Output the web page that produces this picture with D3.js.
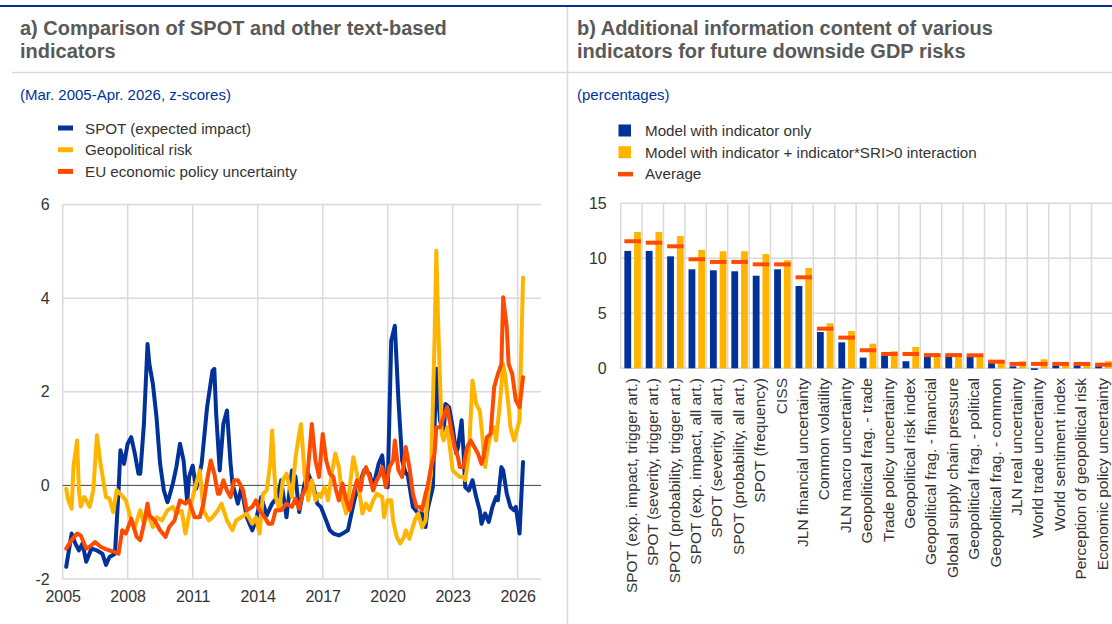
<!DOCTYPE html>
<html>
<head>
<meta charset="utf-8">
<script src="https://cdn.jsdelivr.net/npm/d3@7"></script>
<style>
  body { margin: 0; background: #fff; }
  svg text { font-family: "Liberation Sans", Arial, sans-serif; }
</style>
</head>
<body>
<svg id="chart" width="1112" height="624"></svg>
<script>
// ---------- Panel a: monthly z-scores ----------
const spotSeries = [
  ["2005-03",-1.74],["2005-06",-1.03],["2005-08",-1.24],["2005-10",-1.39],["2005-12",-1.24],
  ["2006-02",-1.63],["2006-05",-1.35],["2006-08",-1.39],["2006-11",-1.46],["2007-01",-1.70],
  ["2007-03",-1.53],["2007-06",-1.46],["2007-08",-0.10],["2007-09",0.75],["2007-11",0.46],
  ["2008-01",0.89],["2008-03",1.03],["2008-05",0.68],["2008-07",0.25],["2008-08",0.25],
  ["2008-10",1.31],["2008-12",3.02],["2009-01",2.59],["2009-03",2.17],["2009-05",1.46],
  ["2009-07",0.46],["2009-09",-0.10],["2009-11",-0.36],["2009-12",-0.25],["2010-02",0.04],
  ["2010-04",0.39],["2010-06",0.89],["2010-08",0.53],["2010-10",-0.35],["2010-11",0.18],
  ["2011-01",0.42],["2011-03",-0.07],["2011-06",0.46],["2011-09",1.67],["2011-12",2.45],
  ["2012-01",2.49],["2012-02",1.53],["2012-04",0.32],["2012-06",1.31],["2012-08",1.60],
  ["2012-10",0.46],["2012-11",0.04],["2013-02",-0.39],["2013-04",-0.04],["2013-07",-0.68],
  ["2013-10",-0.96],["2013-12",-0.75],["2014-03",-0.25],["2014-06",-0.64],["2014-09",-0.39],
  ["2014-12",-0.25],["2015-02",0.11],["2015-05",-0.68],["2015-08",0.32],["2015-10",0.18],
  ["2015-12",-0.57],["2016-03",0.04],["2016-05",0.25],["2016-08",-0.04],["2016-10",-0.39],
  ["2016-12",-0.46],["2017-03",-0.75],["2017-05",-0.96],["2017-07",-1.03],["2017-10",-1.07],
  ["2017-12",-1.03],["2018-03",-0.96],["2018-05",-0.60],["2018-07",-0.25],["2018-10",0.11],
  ["2018-12",0.32],["2019-03",0.25],["2019-05",-0.04],["2019-08",0.46],["2019-10",0.64],
  ["2019-11",0.25],["2020-01",-0.04],["2020-03",3.09],["2020-05",3.41],["2020-07",1.81],
  ["2020-09",0.53],["2020-11",0.25],["2020-12",0.25],["2021-03",-0.46],["2021-06",-0.60],
  ["2021-08",-0.60],["2021-10",-0.89],["2021-11",-0.53],["2022-02",-0.04],["2022-03",1.24],
  ["2022-04",2.49],["2022-06",1.39],["2022-08",1.10],["2022-09",1.74],["2022-11",1.67],
  ["2023-01",1.24],["2023-03",0.68],["2023-04",0.82],["2023-06",1.39],["2023-07",0.75],
  ["2023-08",-0.04],["2023-10",-0.11],["2023-12",0.11],["2024-02",-0.25],["2024-04",-0.53],
  ["2024-05",-0.82],["2024-07",-0.60],["2024-09",-0.78],["2024-11",-0.46],["2025-01",-0.25],
  ["2025-02",-0.32],["2025-04",0.39],["2025-05",0.32],["2025-07",-0.18],["2025-09",-0.46],
  ["2025-11",-0.53],["2025-12",-0.46],["2026-02",-1.03],["2026-04",0.50]
];
const geoRiskSeries = [
  ["2005-03",-0.07],["2005-04",-0.30],["2005-06",-0.50],["2005-07",0.40],["2005-09",0.96],
  ["2005-10",-0.10],["2005-11",-0.45],["2006-01",-0.25],["2006-04",-0.46],["2006-06",-0.10],
  ["2006-08",1.07],["2006-10",0.46],["2007-01",-0.25],["2007-03",-0.28],["2007-05",-0.57],
  ["2007-07",-0.10],["2007-09",-0.18],["2007-12",-0.32],["2008-03",-0.75],["2008-05",-0.89],
  ["2008-08",-0.53],["2008-10",-0.82],["2008-12",-0.60],["2009-03",-0.89],["2009-05",-0.68],
  ["2009-08",-0.75],["2009-11",-0.53],["2010-02",-0.46],["2010-04",-0.60],["2010-07",-0.55],
  ["2010-09",-1.03],["2010-12",-0.42],["2011-03",0.04],["2011-05",0.32],["2011-07",-0.53],
  ["2011-10",-0.75],["2011-12",-0.68],["2012-03",-0.53],["2012-05",-0.39],["2012-08",-0.75],
  ["2012-11",-0.96],["2013-01",-0.75],["2013-04",-0.68],["2013-07",-0.60],["2013-10",-0.82],
  ["2013-12",-0.68],["2014-02",-1.03],["2014-04",-0.18],["2014-06",-0.11],["2014-08",0.46],
  ["2014-09",1.17],["2014-11",-0.25],["2015-01",-0.53],["2015-03",0.11],["2015-05",0.25],
  ["2015-08",-0.25],["2015-10",0.60],["2015-12",1.10],["2016-01",1.31],["2016-03",0.25],
  ["2016-05",-0.32],["2016-07",0.11],["2016-09",-0.32],["2016-11",-0.18],["2016-12",-0.25],
  ["2017-02",-0.04],["2017-04",-0.32],["2017-06",0.25],["2017-08",0.68],["2017-10",0.39],
  ["2017-12",-0.32],["2018-02",-0.60],["2018-04",-0.04],["2018-06",0.60],["2018-08",0.25],
  ["2018-10",-0.32],["2018-11",-0.60],["2019-01",-0.39],["2019-03",-0.53],["2019-05",-0.32],
  ["2019-07",-0.18],["2019-10",-0.25],["2019-11",-0.68],["2020-01",-0.32],["2020-03",-0.32],
  ["2020-04",-0.75],["2020-06",-1.10],["2020-08",-1.24],["2020-10",-1.10],["2020-11",-0.96],
  ["2021-01",-1.14],["2021-04",-0.75],["2021-06",-0.60],["2021-08",-0.90],["2021-10",-0.75],
  ["2021-11",-0.32],["2022-01",0.25],["2022-03",3.09],["2022-04",5.01],["2022-05",3.45],
  ["2022-07",1.10],["2022-08",0.96],["2022-10",1.24],["2022-11",0.96],["2023-01",0.32],
  ["2023-03",0.25],["2023-05",0.18],["2023-07",0.18],["2023-08",0.11],["2023-10",0.68],
  ["2023-12",2.24],["2024-02",1.74],["2024-04",1.60],["2024-05",1.24],["2024-07",0.39],
  ["2024-08",0.68],["2024-10",1.10],["2024-12",1.24],["2025-01",0.96],["2025-03",1.67],
  ["2025-05",2.59],["2025-06",2.38],["2025-08",1.67],["2025-09",1.24],["2025-11",0.96],
  ["2025-12",1.10],["2026-02",1.39],["2026-04",4.44]
];
const euEpuSeries = [
  ["2005-03",-1.35],["2005-06",-1.17],["2005-09",-1.03],["2005-11",-1.07],["2006-02",-1.35],
  ["2006-04",-1.31],["2006-07",-1.21],["2006-10",-1.31],["2006-12",-1.35],["2007-03",-1.39],
  ["2007-06",-1.42],["2007-08",-1.46],["2007-10",-0.96],["2007-12",-1.03],["2008-03",-0.71],
  ["2008-06",-1.10],["2008-08",-1.17],["2008-10",-0.82],["2008-12",-0.39],["2009-01",-0.64],
  ["2009-04",-0.75],["2009-07",-0.96],["2009-10",-1.10],["2009-12",-0.89],["2010-03",-0.75],
  ["2010-06",-0.32],["2010-09",-0.39],["2010-11",-0.32],["2011-02",-0.68],["2011-05",-0.68],
  ["2011-07",-0.39],["2011-09",0.11],["2011-11",0.53],["2012-01",0.25],["2012-03",-0.18],
  ["2012-04",-0.18],["2012-06",0.11],["2012-08",-0.11],["2012-10",-0.25],["2012-12",0.11],
  ["2013-02",0.11],["2013-05",-0.11],["2013-07",-0.53],["2013-10",-0.46],["2013-12",-0.32],
  ["2014-02",-0.53],["2014-05",-0.68],["2014-07",-0.82],["2014-09",-0.82],["2014-11",-0.53],
  ["2015-02",-0.53],["2015-05",-0.39],["2015-08",-0.46],["2015-10",-0.28],["2015-12",-0.50],
  ["2016-02",-0.18],["2016-04",-0.04],["2016-05",0.39],["2016-07",1.31],["2016-09",0.53],
  ["2016-11",0.18],["2017-01",1.10],["2017-03",0.53],["2017-05",0.25],["2017-07",0.18],
  ["2017-08",-0.04],["2017-10",-0.32],["2017-12",0.04],["2018-02",-0.32],["2018-04",-0.53],
  ["2018-06",-0.18],["2018-08",0.11],["2018-10",-0.11],["2018-11",0.18],["2019-01",0.39],
  ["2019-03",0.18],["2019-05",-0.11],["2019-07",0.11],["2019-09",0.25],["2019-10",0.39],
  ["2019-12",-0.04],["2020-02",0.39],["2020-04",0.53],["2020-05",0.96],["2020-07",0.32],
  ["2020-09",0.18],["2020-11",0.82],["2021-01",0.39],["2021-03",-0.18],["2021-05",-0.46],
  ["2021-07",-0.46],["2021-08",-0.53],["2021-10",-0.18],["2021-11",-0.04],["2022-01",0.39],
  ["2022-03",0.68],["2022-04",1.24],["2022-06",1.24],["2022-08",1.46],["2022-10",1.67],
  ["2022-12",1.24],["2023-02",0.82],["2023-04",0.60],["2023-05",0.39],["2023-07",0.39],
  ["2023-09",0.82],["2023-11",0.96],["2024-01",0.82],["2024-03",0.68],["2024-05",0.46],
  ["2024-06",0.60],["2024-08",1.03],["2024-10",1.10],["2024-12",2.10],["2025-02",2.38],
  ["2025-04",2.59],["2025-05",4.02],["2025-07",3.38],["2025-08",2.59],["2025-10",2.38],
  ["2025-12",1.81],["2026-02",1.67],["2026-04",2.31]
];
const yearTicks = [2005, 2008, 2011, 2014, 2017, 2020, 2023, 2026];
const zTicks = [-2, 0, 2, 4, 6];
const lineSeriesNames = ["SPOT (expected impact)", "Geopolitical risk", "EU economic policy uncertainty"];

// ---------- Panel b: information content (percentages) ----------
const indicators = [
  "SPOT (exp. impact, trigger art.)", "SPOT (severity, trigger art.)", "SPOT (probability, trigger art.)",
  "SPOT (exp. impact, all art.)", "SPOT (severity, all art.)", "SPOT (probability, all art.)",
  "SPOT (frequency)", "CISS", "JLN financial uncertainty", "Common volatility",
  "JLN macro uncertainty", "Geopolitical frag. - trade", "Trade policy uncertainty",
  "Geopolitical risk index", "Geopolitical frag. - financial", "Global supply chain pressure",
  "Geopolitical frag. - political", "Geopolitical frag. - common", "JLN real uncertainty",
  "World trade uncertainty", "World sentiment index", "Perception of geopolitical risk",
  "Economic policy uncertainty"
];
const indicatorOnly = [10.67, 10.67, 10.18, 9.00, 8.91, 8.82, 8.42, 9.00, 7.48, 3.30, 2.36, 0.97, 1.12, 0.64, 1.15, 1.15, 1.15, 0.55, 0.18, -0.15, 0.27, 0.40, 0.20];
const withInteraction = [12.39, 12.39, 12.03, 10.76, 10.64, 10.64, 10.39, 9.82, 9.12, 4.09, 3.39, 2.24, 1.55, 1.94, 1.25, 1.25, 1.22, 0.65, 0.64, 0.82, 0.45, 0.45, 0.64];
const averageValues = [11.55, 11.42, 11.09, 9.91, 9.67, 9.67, 9.45, 9.45, 8.27, 3.60, 2.79, 1.64, 1.30, 1.30, 1.20, 1.20, 1.18, 0.60, 0.40, 0.40, 0.40, 0.40, 0.33];
const pctTicks = [0, 5, 10, 15];
const barSeriesNames = ["Model with indicator only", "Model with indicator + indicator*SRI>0 interaction", "Average"];

// ---------- shared styling ----------
const BLUE = "#003299", YELLOW = "#ffb400", ORANGE = "#ff4b00";
const GRID = "#d9d9d9", TITLE = "#595959", TEXT = "#333333";
const FONT = "Liberation Sans, Arial, sans-serif";

const svg = d3.select("#chart");

// frame: top rule, title separator, panel divider
svg.append("rect").attr("x", 0).attr("y", 5).attr("width", 1112).attr("height", 2).attr("fill", BLUE);
svg.append("line").attr("x1", 12).attr("x2", 1112).attr("y1", 72.5).attr("y2", 72.5)
  .attr("stroke", GRID).attr("stroke-width", 1.5);
svg.append("line").attr("x1", 567.5).attr("x2", 567.5).attr("y1", 7).attr("y2", 624)
  .attr("stroke", GRID).attr("stroke-width", 1.5);

function title(x, lines) {
  const t = svg.append("text").attr("x", x).attr("y", 35).attr("fill", TITLE)
    .attr("font-size", 20).attr("font-weight", "bold");
  lines.forEach((l, i) => t.append("tspan").attr("x", x).attr("dy", i ? 23 : 0).text(l));
}
title(20, ["a) Comparison of SPOT and other text-based", "indicators"]);
title(577, ["b) Additional information content of various", "indicators for future downside GDP risks"]);

svg.append("text").attr("x", 20).attr("y", 100).attr("fill", BLUE).attr("font-size", 15)
  .text("(Mar. 2005-Apr. 2026, z-scores)");
svg.append("text").attr("x", 577).attr("y", 100).attr("fill", BLUE).attr("font-size", 15)
  .text("(percentages)");

const plainNumber = d => String(d);

// ================= Panel a =================
const parseMonth = d3.timeParse("%Y-%m");
const xA = d3.scaleTime()
  .domain([new Date(2005, 0, 1), new Date(2026, 0, 1)])
  .range([62.7, 517.7]);
const plotARight = 541;
const yA = d3.scaleLinear().domain([-2, 6]).range([579, 204.5]);

const gA = svg.append("g");
// horizontal grid
gA.selectAll("line.hg").data(zTicks.filter(d => d !== 0)).join("line")
  .attr("x1", xA.range()[0]).attr("x2", plotARight)
  .attr("y1", d => yA(d)).attr("y2", d => yA(d))
  .attr("stroke", GRID).attr("stroke-width", 1.5);
// vertical grid at year ticks
gA.selectAll("line.vg").data(yearTicks).join("line")
  .attr("x1", d => xA(new Date(d, 0, 1))).attr("x2", d => xA(new Date(d, 0, 1)))
  .attr("y1", yA(6)).attr("y2", yA(-2))
  .attr("stroke", GRID).attr("stroke-width", 1.5);

const axisYA = d3.axisLeft(yA).tickValues(zTicks).tickSize(0).tickPadding(13).tickFormat(plainNumber);
gA.append("g").attr("transform", `translate(${xA.range()[0]},0)`).call(axisYA)
  .call(g => g.select(".domain").remove())
  .call(g => g.selectAll("text").attr("font-size", 16).attr("fill", TEXT).attr("font-family", FONT));
const axisXA = d3.axisBottom(xA).tickValues(yearTicks.map(y => new Date(y, 0, 1)))
  .tickSize(0).tickPadding(12).tickFormat(d3.timeFormat("%Y"));
gA.append("g").attr("transform", `translate(0,${yA(-2)})`).call(axisXA)
  .call(g => g.select(".domain").remove())
  .call(g => g.selectAll("text").attr("font-size", 16).attr("fill", TEXT).attr("font-family", FONT));

// zero line
gA.append("line").attr("x1", xA.range()[0]).attr("x2", plotARight)
  .attr("y1", yA(0)).attr("y2", yA(0)).attr("stroke", "#404040").attr("stroke-width", 1);

const line = d3.line().x(d => xA(parseMonth(d[0]))).y(d => yA(d[1])).curve(d3.curveLinear);
[[spotSeries, BLUE], [geoRiskSeries, YELLOW], [euEpuSeries, ORANGE]].forEach(([s, c]) => {
  gA.append("path").datum(s).attr("d", line).attr("fill", "none")
    .attr("stroke", c).attr("stroke-width", 4).attr("stroke-linejoin", "round").attr("stroke-linecap", "round");
});

// legend a
const legA = svg.append("g");
lineSeriesNames.forEach((n, i) => {
  const cy = 128 + i * 21.7;
  legA.append("rect").attr("x", 58).attr("y", cy - 2.5).attr("width", 15).attr("height", 5)
    .attr("fill", [BLUE, YELLOW, ORANGE][i]);
  legA.append("text").attr("x", 85).attr("y", cy + 5.5).attr("font-size", 15.2).attr("fill", TEXT).text(n);
});

// ================= Panel b =================
const xB = d3.scaleBand().domain(indicators).range([620.7, 620.7 + 23 * 21.4]).padding(0);
const xSub = d3.scaleBand().domain(["only", "inter"]).range([0, xB.bandwidth()])
  .paddingInner(0.3).paddingOuter(0.25).align(0.75);
const yB = d3.scaleLinear().domain([0, 15]).range([368.3, 203.3]);

const gB = svg.append("g");
gB.selectAll("line.hg").data(pctTicks).join("line")
  .attr("x1", xB.range()[0]).attr("x2", 1112)
  .attr("y1", d => yB(d)).attr("y2", d => yB(d))
  .attr("stroke", GRID).attr("stroke-width", 1.5);
gB.selectAll("line.vg").data(indicators).join("line")
  .attr("x1", d => xB(d)).attr("x2", d => xB(d))
  .attr("y1", yB(15)).attr("y2", yB(0))
  .attr("stroke", GRID).attr("stroke-width", 1.5);

const axisYB = d3.axisLeft(yB).tickValues(pctTicks).tickSize(0).tickPadding(14).tickFormat(plainNumber);
gB.append("g").attr("transform", `translate(${xB.range()[0]},0)`).call(axisYB)
  .call(g => g.select(".domain").remove())
  .call(g => g.selectAll("text").attr("font-size", 16).attr("fill", TEXT).attr("font-family", FONT));

const barRows = indicators.map((name, i) => ({ name, only: indicatorOnly[i], inter: withInteraction[i], avg: averageValues[i] }));

gB.selectAll("rect.only").data(barRows).join("rect")
  .attr("x", d => xB(d.name) + xSub("only")).attr("width", xSub.bandwidth())
  .attr("y", d => yB(Math.max(0, d.only))).attr("height", d => Math.abs(yB(d.only) - yB(0)))
  .attr("fill", BLUE);
gB.selectAll("rect.inter").data(barRows).join("rect")
  .attr("x", d => xB(d.name) + xSub("inter")).attr("width", xSub.bandwidth())
  .attr("y", d => yB(Math.max(0, d.inter))).attr("height", d => Math.abs(yB(d.inter) - yB(0)))
  .attr("fill", YELLOW);
gB.selectAll("line.avg").data(barRows).join("line")
  .attr("x1", d => xB(d.name) + xSub("only")).attr("x2", d => xB(d.name) + xSub("inter") + xSub.bandwidth())
  .attr("y1", d => yB(d.avg)).attr("y2", d => yB(d.avg))
  .attr("stroke", ORANGE).attr("stroke-width", 4);

// category labels (rotated)
gB.selectAll("text.cat").data(indicators).join("text")
  .attr("transform", d => `translate(${xB(d) + xB.bandwidth() / 2},378) rotate(-90)`)
  .attr("text-anchor", "end").attr("dy", "0.35em")
  .attr("font-size", 15.5).attr("fill", TEXT).text(d => d);

// legend b
const legB = svg.append("g");
barSeriesNames.forEach((n, i) => {
  const cy = 130.5 + i * 21.7;
  if (i < 2) {
    legB.append("rect").attr("x", 618.5).attr("y", cy - 6).attr("width", 12.5).attr("height", 12)
      .attr("fill", [BLUE, YELLOW][i]);
  } else {
    legB.append("rect").attr("x", 618).attr("y", cy - 2).attr("width", 15).attr("height", 4.5).attr("fill", ORANGE);
  }
  legB.append("text").attr("x", 645).attr("y", cy + 5.5).attr("font-size", 15.2).attr("fill", TEXT).text(n);
});
</script>
</body>
</html>
